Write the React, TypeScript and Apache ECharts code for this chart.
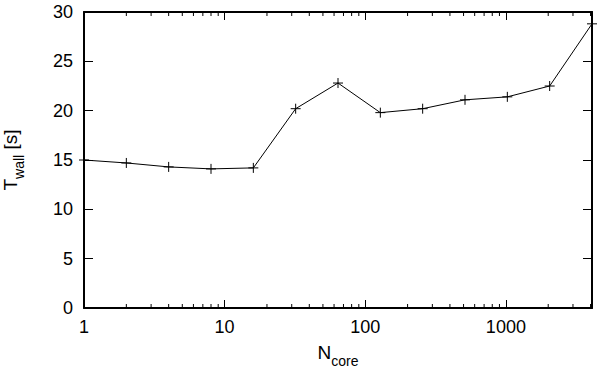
import React, { useEffect, useRef } from "react";
import * as echarts from "echarts";

const cores = [1, 2, 4, 8, 16, 32, 64, 128, 256, 512, 1024, 2048, 4096];
const wallTime = [15.0, 14.7, 14.3, 14.1, 14.2, 20.2, 22.8, 19.8, 20.2, 21.1, 21.4, 22.5, 28.8];
const minorTicks = [2, 3, 4, 5, 6, 7, 8, 9, 20, 30, 40, 50, 60, 70, 80, 90, 200, 300, 400, 500, 600, 700, 800, 900, 2000, 3000, 4000];
const yTicks = [0, 5, 10, 15, 20, 25, 30];

const FONT = "Liberation Sans";

export default function App() {
  const ref = useRef<HTMLDivElement>(null);
  useEffect(() => {
    if (!ref.current) return;
    const chart = echarts.init(ref.current, null, { renderer: "svg" });
    const yMin = yTicks[0];
    const yMax = yTicks[yTicks.length - 1];
    const mkLine = () => ({ show: true, onZero: false, lineStyle: { color: "#000", width: 2 } });
    const mkTick = (len: number) => ({ show: true, inside: true, length: len, lineStyle: { color: "#000", width: 1 } });
    const isPow10 = (v: number) => {
      const l = Math.log10(v);
      return Math.abs(l - Math.round(l)) < 1e-9;
    };
    const rich = {
      t: { fontSize: 19, fontFamily: FONT, color: "#000", lineHeight: 25, verticalAlign: "top" },
      s: { fontSize: 14, fontFamily: FONT, color: "#000", lineHeight: 9, verticalAlign: "bottom" },
    };
    chart.setOption({
      animation: false,
      grid: { left: 84, right: 8, top: 12, bottom: 62, containLabel: false, outerBoundsMode: "none" },
      xAxis: [
        {
          type: "log",
          logBase: 10,
          min: 1,
          max: 4096,
          position: "bottom",
          axisLine: mkLine(),
          axisTick: mkTick(8),
          splitLine: { show: false },
          axisLabel: {
            color: "#000",
            fontSize: 18,
            fontFamily: FONT,
            margin: 10,
            formatter: (v: number) => (isPow10(v) ? String(Math.round(v)) : ""),
          },
          name: "{t|N}{s|core}",
          nameLocation: "middle",
          nameGap: 35,
          nameTextStyle: { color: "#000", rich },
        },
        {
          type: "log",
          logBase: 10,
          min: 1,
          max: 4096,
          position: "top",
          axisLine: mkLine(),
          axisTick: mkTick(8),
          splitLine: { show: false },
          axisLabel: { show: false },
        },
      ],
      yAxis: [
        {
          type: "value",
          min: yMin,
          max: yMax,
          interval: 5,
          position: "left",
          axisLine: mkLine(),
          axisTick: mkTick(9),
          splitLine: { show: false },
          axisLabel: { color: "#000", fontSize: 18, fontFamily: FONT, margin: 11 },
          name: "{t|T}{s|wall}{t| [s]}",
          nameLocation: "middle",
          nameGap: 58,
          nameRotate: 90,
          nameTextStyle: { color: "#000", rich },
        },
        {
          type: "value",
          min: yMin,
          max: yMax,
          interval: 5,
          position: "right",
          axisLine: mkLine(),
          axisTick: mkTick(9),
          splitLine: { show: false },
          axisLabel: { show: false },
        },
      ],
      series: [
        {
          type: "custom",
          xAxisIndex: 0,
          yAxisIndex: 0,
          silent: true,
          data: minorTicks.map((v) => [v, yMin]),
          renderItem: (params: any, api: any) => {
            const v = api.value(0);
            const pb = api.coord([v, yMin]);
            const pt = api.coord([v, yMax]);
            const style = { stroke: "#000", lineWidth: 1 };
            return {
              type: "group",
              children: [
                { type: "line", shape: { x1: pb[0], y1: pb[1], x2: pb[0], y2: pb[1] - 4 }, style },
                { type: "line", shape: { x1: pt[0], y1: pt[1], x2: pt[0], y2: pt[1] + 4 }, style },
              ],
            };
          },
        },
        {
          type: "line",
          xAxisIndex: 0,
          yAxisIndex: 0,
          data: cores.map((c, i) => [c, wallTime[i]]),
          lineStyle: { color: "#000", width: 1 },
          symbol: "path://M5,0 L5,10 M0,5 L10,5",
          symbolSize: 10,
          showSymbol: true,
          itemStyle: { color: "#000", borderColor: "#000", borderWidth: 1 },
          clip: false,
        },
      ],
    });
    return () => chart.dispose();
  }, []);
  return <div ref={ref} style={{ position: "absolute", left: 0, top: 0, width: 600, height: 370 }} />;
}
